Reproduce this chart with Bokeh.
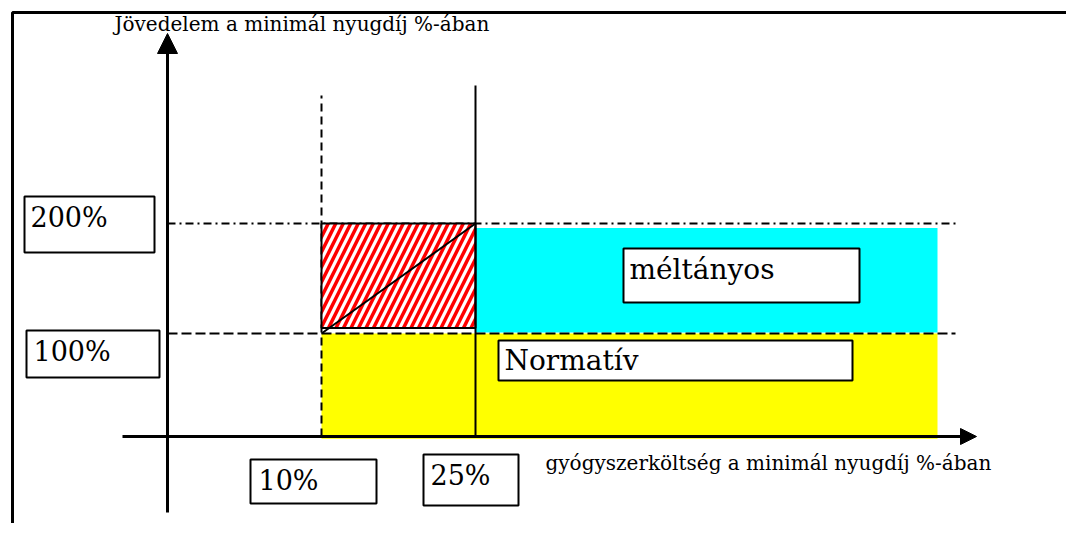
from bokeh.plotting import figure
from bokeh.models import Range1d, Arrow, NormalHead
from bokeh.core.properties import value
from bokeh.embed import file_html
from bokeh.resources import INLINE

# ---- chart values ----
x_thresholds = [10, 25]          # gyógyszerköltség, % of minimum pension
x_labels = ["10%", "25%"]
y_thresholds = [100, 200]        # jövedelem, % of minimum pension
y_labels = ["100%", "200%"]
x_band_end = 70                  # schematic right end of the zones
zone_names = ["Normatív", "méltányos"]
zone_colors = ["#ffff00", "#00ffff"]
y_title = "Jövedelem a minimál nyugdíj %-ában"
x_title = "gyógyszerköltség a minimál nyugdíj %-ában"

# ---- layout: scale of the schematic (pixels per unit) ----
W, H = 1066, 523
SX = 154 / 15.0
SY = 1.1
X0_PX, Y0_PX = 321, 333          # position of (x_thresholds[0], y_thresholds[0])
TXT_DY = 8                       # text baseline correction (px)


def X(px):
    return x_thresholds[0] + (px - X0_PX) / SX


def Y(py):
    return y_thresholds[0] - (py - Y0_PX) / SY


FONT = value("DejaVu Serif")

p = figure(width=W, height=H, x_range=Range1d(X(0), X(W)),
           y_range=Range1d(Y(H), Y(0)), x_axis_type=None, y_axis_type=None,
           output_backend="svg", toolbar_location=None, min_border=0,
           outline_line_color=None, background_fill_color="white",
           border_fill_color="white")
p.grid.visible = False

axis_x = X(167)
axis_y = Y(436)

# page frame (top and left edges)
p.line([X(12), X(12), X(1100)], [Y(560), Y(12), Y(12)], line_color="black", line_width=3)

# zones
p.quad(left=[x_thresholds[0]], right=[x_band_end], bottom=[axis_y - 2], top=[y_thresholds[0]],
       fill_color=zone_colors[0], line_color=None)
p.quad(left=[x_thresholds[1]], right=[x_band_end], bottom=[y_thresholds[0] + 1],
       top=[y_thresholds[1] - 4], fill_color=zone_colors[1], line_color=None)

# threshold guide lines
p.line([axis_x, X(955)], [y_thresholds[0], y_thresholds[0]], line_color="black",
       line_width=2, line_dash="10 4")
p.line([axis_x, X(955)], [y_thresholds[1], y_thresholds[1]], line_color="black",
       line_width=2, line_dash="8 4 2 4")
p.line([x_thresholds[0], x_thresholds[0]], [axis_y, Y(95)], line_color="black",
       line_width=2, line_dash="8 5")

# hatched region
p.quad(left=[x_thresholds[0]], right=[x_thresholds[1]], bottom=[y_thresholds[0] + 5],
       top=[y_thresholds[1]], fill_color="white", hatch_pattern="/", hatch_color="red",
       hatch_scale=15, hatch_weight=3.5, line_color="black", line_width=2)
p.line([x_thresholds[0], x_thresholds[1]], [y_thresholds[0], y_thresholds[1]],
       line_color="black", line_width=2)

p.line([x_thresholds[1], x_thresholds[1]], [axis_y, Y(85)], line_color="black", line_width=2)

# axes with arrows
p.add_layout(Arrow(x_start=axis_x, y_start=Y(512), x_end=axis_x, y_end=Y(33),
                   line_width=3, line_color="black",
                   end=NormalHead(size=20, fill_color="black", line_color="black", line_width=1)))
p.add_layout(Arrow(x_start=X(122), y_start=axis_y, x_end=X(976), y_end=axis_y,
                   line_width=3, line_color="black",
                   end=NormalHead(size=16, fill_color="black", line_color="black", line_width=1)))

# label boxes: (left, right, top, bottom) px, text origin
boxes = [
    (24, 154, 196, 252, 30, 225, y_labels[1], "27px"),
    (26, 159, 330, 377, 33, 359, y_labels[0], "27px"),
    (250, 376, 459, 503, 258, 488, x_labels[0], "27px"),
    (423, 518, 454, 505, 430, 483, x_labels[1], "27px"),
    (623, 859, 248, 302, 629, 277, zone_names[1], "28px"),
    (498, 852, 340, 380, 504, 368, zone_names[0], "28px"),
]
for l, r, t, b, tx, ty, txt, fs in boxes:
    p.quad(left=[X(l)], right=[X(r)], top=[Y(t)], bottom=[Y(b)], fill_color="white",
           line_color="black", line_width=2)
    p.text(x=[X(tx)], y=[Y(ty - TXT_DY)], text=[txt], text_font=FONT, text_font_size=fs,
           text_baseline="alphabetic", text_align="left", text_color="black")

# axis titles
p.text(x=[X(114)], y=[Y(31 - TXT_DY)], text=[y_title], text_font=FONT, text_font_size="20px",
       text_baseline="alphabetic", text_align="left", text_color="black")
p.text(x=[X(545)], y=[Y(470 - TXT_DY)], text=[x_title], text_font=FONT, text_font_size="20px",
       text_baseline="alphabetic", text_align="left", text_color="black")

open("out.html", "w").write(file_html(p, INLINE))
